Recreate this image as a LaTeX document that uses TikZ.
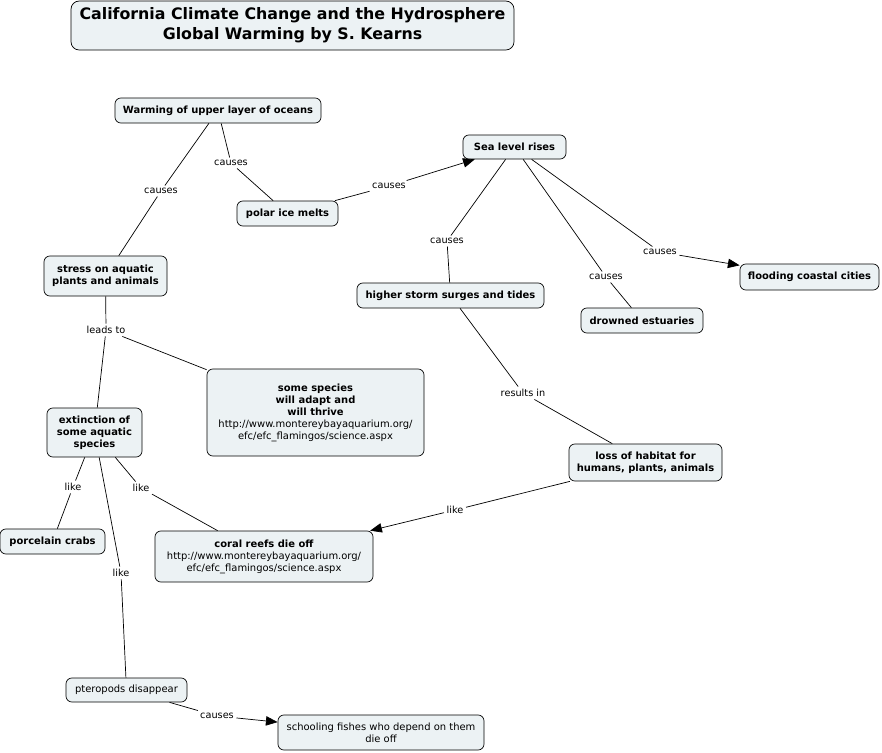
\documentclass[tikz,border=0pt]{standalone}
\usepackage{fontspec}
\setmainfont{DejaVu Sans}
\usetikzlibrary{arrows.meta}
\definecolor{cmapfill}{RGB}{236,242,244}
\tikzstyle{concept} = [draw, rounded corners=5pt, fill=cmapfill, align=center, inner sep=0pt, font=\bfseries\fontsize{8.5}{10.2}\selectfont]
\tikzstyle{phrase} = [inner sep=2pt, font=\fontsize{8.3}{10}\selectfont]
\tikzstyle{line} = [draw, -]
\tikzstyle{arrow} = [draw, -{Triangle[length=10pt,width=8pt]}]
\tikzset{box/.style 2 args={minimum width=#1*0.03cm, minimum height=#2*0.03cm}}

\begin{document}
\begin{tikzpicture}[x=0.03cm, y=-0.03cm, line width=0.6pt]
    \useasboundingbox (0,0) rectangle (882,753);

    % title
    \node[concept, box={443}{49}, rounded corners=7pt, font=\bfseries\fontsize{13.5}{17}\selectfont] (title) at (292.5,25.5)
        {California Climate Change and the Hydrosphere\\Global Warming by S. Kearns};

    % concepts
    \node[concept, box={206}{25}] (warming) at (218,110.5) {Warming of upper layer of oceans};
    \node[concept, box={101}{25}] (polar) at (287.5,213.5) {polar ice melts};
    \node[concept, box={103}{24}] (sea) at (514.5,147) {Sea level rises};
    \node[concept, box={123}{40}] (stress) at (105.5,276) {stress on aquatic\\plants and animals};
    \node[concept, box={187}{25}] (storm) at (450.5,295.5) {higher storm surges and tides};
    \node[concept, box={139}{26}] (flooding) at (809.5,277) {flooding coastal cities};
    \node[concept, box={122}{25}] (drowned) at (642,320.5) {drowned estuaries};
    \node[concept, box={217}{87}] (adapt) at (315.5,412.5)
        {some species\\will adapt and\\will thrive\\
         {\mdseries http://www.montereybayaquarium.org/}\\{\mdseries efc/efc\_flamingos/science.aspx}};
    \node[concept, box={95}{49}] (extinction) at (94.5,432.5) {extinction of\\some aquatic\\species};
    \node[concept, box={153}{37}] (loss) at (645.5,462.5) {loss of habitat for\\humans, plants, animals};
    \node[concept, box={105}{25}] (porcelain) at (52.5,541.5) {porcelain crabs};
    \node[concept, box={218}{51}] (coral) at (264,556.5)
        {coral reefs die off\\
         {\mdseries http://www.montereybayaquarium.org/}\\{\mdseries efc/efc\_flamingos/science.aspx}};
    \node[concept, box={121}{24}, font=\fontsize{8.5}{10.2}\selectfont] (pteropods) at (126.5,690) {pteropods disappear};
    \node[concept, box={206}{35}, font=\fontsize{8.5}{10.2}\selectfont] (schooling) at (381,732.5)
        {schooling fishes who depend on them\\die off};

    % linking phrases
    \node[phrase] (c1) at (161,191) {causes};
    \node[phrase] (c2) at (231,163) {causes};
    \node[phrase] (c3) at (389,186) {causes};
    \node[phrase] (c4) at (447,241) {causes};
    \node[phrase] (c5) at (606,277) {causes};
    \node[phrase] (c6) at (660,252) {causes};
    \node[phrase] (r1) at (523,393) {results in};
    \node[phrase] (l1) at (106,330) {leads to};
    \node[phrase] (k1) at (73,487) {like};
    \node[phrase] (k2) at (141,488) {like};
    \node[phrase] (k3) at (121,573) {like};
    \node[phrase] (k4) at (455,510) {like};
    \node[phrase] (c7) at (217,716) {causes};

    % connectors
    \path[line] (warming) -- (c1) -- (stress);
    \path[line] (warming) -- (c2) -- (polar);
    \path[line] (polar) -- (c3);
    \path[arrow] (c3) -- (sea);
    \path[line] (sea) -- (c4) -- (storm);
    \path[line] (sea) -- (c5) -- (drowned);
    \path[line] (sea) -- (c6);
    \path[arrow] (c6) -- (flooding);
    \path[line] (storm) -- (r1) -- (loss);
    \path[line] (stress) -- (l1) -- (extinction);
    \path[line] (l1) -- (adapt);
    \path[line] (extinction) -- (k1) -- (porcelain);
    \path[line] (extinction) -- (k2) -- (coral);
    \path[line] (extinction) -- (k3) -- (pteropods);
    \path[line] (loss) -- (k4);
    \path[arrow] (k4) -- (coral);
    \path[line] (pteropods) -- (c7);
    \path[arrow] (c7) -- (schooling);
\end{tikzpicture}
\end{document}
